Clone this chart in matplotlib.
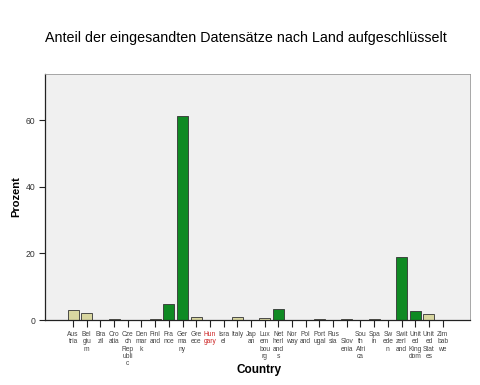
import numpy as np
import matplotlib
matplotlib.use("Agg")
import matplotlib.pyplot as plt

plt.rcParams['font.family'] = ['Liberation Sans', 'DejaVu Sans']

# Daten
countries = ["Aus\ntria", "Bel\ngiu\nm", "Bra\nzil", "Cro\natia", "Cze\nch\nRep\nubli\nc",
             "Den\nmar\nk", "Finl\nand", "Fra\nnce", "Ger\nma\nny", "Gre\nece", "Hun\ngary",
             "Isra\nel", "Italy", "Jap\nan", "Lux\nem\nbou\nrg", "Net\nherl\nand\ns", "Nor\nway",
             "Pol\nand", "Port\nugal", "Rus\nsia", "\nSlov\nenia", "Sou\nth\nAfri\nca", "Spa\nin",
             "Sw\nede\nn", "Swit\nzerl\nand", "Unit\ned\nKing\ndom", "Unit\ned\nStat\nes", "Zim\nbab\nwe"]
percent = [3.1, 2.0, 0.0, 0.2, 0.0, 0.0, 0.2, 4.8, 61.2, 1.0, 0.0,
           0.0, 0.8, 0.0, 0.5, 3.2, 0.0, 0.0, 0.2, 0.0, 0.2, 0.0, 0.2,
           0.0, 18.8, 2.7, 1.8, 0.0]
group = [0, 0, 0, 0, 0, 0, 0, 1, 1, 0, 0, 0, 0, 0, 0, 1, 0, 0, 0, 0, 0, 0, 0, 0, 1, 1, 0, 0]

green = '#0f8a23'
khaki = '#d8d6a0'
colors = [green if g == 1 else khaki for g in group]

fig = plt.figure(figsize=(4.8, 3.85), dpi=100)
ax = fig.add_axes([45 / 480, 1 - 320 / 385, 425 / 480, 246 / 385])
ax.set_facecolor('#f0f0f0')

x = np.arange(len(countries))
ax.bar(x, percent, width=0.8, color=colors, edgecolor='#333333', linewidth=0.6)

ax.set_xlim(-2.05, len(countries) - 1 + 2.0)
ax.set_ylim(0, 73.8)
ax.set_yticks([0, 20, 40, 60])
ax.set_xticks(x)
ax.set_xticklabels(countries, fontsize=4.8, color='#444444', linespacing=1.05, va='top')
ax.get_xticklabels()[10].set_color('#cc2222')

ax.tick_params(axis='x', length=5, width=0.8, color='#222222', pad=3)
ax.tick_params(axis='y', length=4, width=0.8, color='#222222', labelsize=6.2, labelcolor='#333333', pad=3)

for s in ['top', 'right']:
    ax.spines[s].set_color('#999999')
    ax.spines[s].set_linewidth(0.6)
for s in ['left', 'bottom']:
    ax.spines[s].set_color('#222222')
    ax.spines[s].set_linewidth(0.9)

ax.set_ylabel('Prozent', fontsize=8, fontweight='bold', labelpad=3)
fig.text(259 / 480, 1 - 370 / 385, 'Country', ha='center', va='center',
         fontsize=8.5, fontweight='bold')
fig.text(246 / 480, 1 - 38 / 385, 'Anteil der eingesandten Datensätze nach Land aufgeschlüsselt',
         ha='center', va='center', fontsize=10.3)

fig.savefig('out.png', dpi=100)
